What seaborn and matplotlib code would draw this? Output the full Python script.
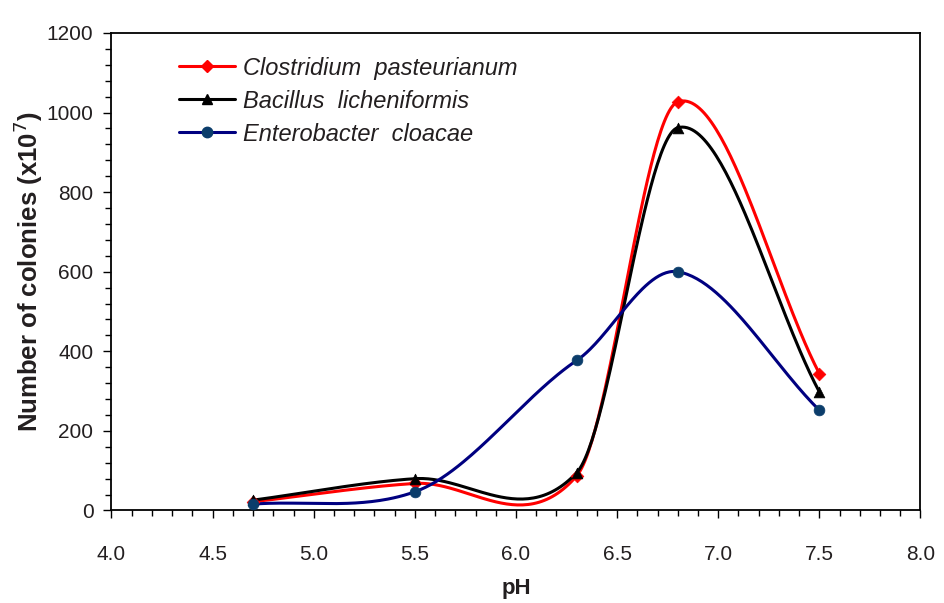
import numpy as np
import pandas as pd
import seaborn as sns
import matplotlib
matplotlib.use("Agg")
import matplotlib.pyplot as plt
from matplotlib.ticker import MultipleLocator
from matplotlib.lines import Line2D

# ---- data ----
ph = [4.7, 5.5, 6.3, 6.8, 7.5]
clostridium = [22, 68, 87, 1027, 344]
bacillus = [26, 80, 95, 962, 298]
enterobacter = [16, 47, 377, 600, 252]
series_names = ["Clostridium  pasteurianum", "Bacillus  licheniformis", "Enterobacter  cloacae"]
line_colors = ["#FF0000", "#000000", "#000080"]
marker_colors = ["#FF0000", "#000000", "#0B3D6B"]
markers = ["D", "^", "o"]
x_ticks = [4.0, 4.5, 5.0, 5.5, 6.0, 6.5, 7.0, 7.5, 8.0]
y_ticks = [0, 200, 400, 600, 800, 1000, 1200]


def cardinal_spline(x, y, tension=0.8, n=60):
    """Smooth curve through the points (cardinal / Catmull-Rom style), as drawn by the source program."""
    x = np.asarray(x, float)
    y = np.asarray(y, float)
    k = len(x)
    m = np.zeros(k)
    for i in range(k):
        if i == 0:
            m[i] = (y[1] - y[0]) / (x[1] - x[0])
        elif i == k - 1:
            m[i] = (y[-1] - y[-2]) / (x[-1] - x[-2])
        else:
            m[i] = tension * (y[i + 1] - y[i - 1]) / (x[i + 1] - x[i - 1])
    xs_all, ys_all = [], []
    for i in range(k - 1):
        h = x[i + 1] - x[i]
        t = np.linspace(0, 1, n, endpoint=(i == k - 2))
        h00 = 2 * t ** 3 - 3 * t ** 2 + 1
        h10 = t ** 3 - 2 * t ** 2 + t
        h01 = -2 * t ** 3 + 3 * t ** 2
        h11 = t ** 3 - t ** 2
        xs_all.append(x[i] + t * h)
        ys_all.append(h00 * y[i] + h10 * h * m[i] + h01 * y[i + 1] + h11 * h * m[i + 1])
    return np.concatenate(xs_all), np.concatenate(ys_all)


sns.set_style("ticks")
plt.rcParams["font.family"] = ["Liberation Sans", "DejaVu Sans"]
text_color = "#231F20"

fig = plt.figure(figsize=(9.44, 6.03), dpi=100)
ax = fig.add_axes([0.1181, 0.1534, 0.857, 0.7919])

raw = {series_names[0]: clostridium, series_names[1]: bacillus, series_names[2]: enterobacter}
smooth_frames = []
point_frames = []
for name, vals in raw.items():
    xs, ys = cardinal_spline(ph, vals)
    smooth_frames.append(pd.DataFrame({"pH": xs, "count": ys, "series": name}))
    point_frames.append(pd.DataFrame({"pH": ph, "count": vals, "series": name}))
smooth = pd.concat(smooth_frames, ignore_index=True)
points = pd.concat(point_frames, ignore_index=True)

sns.lineplot(data=smooth, x="pH", y="count", hue="series", hue_order=series_names,
             palette=line_colors, sort=False, estimator=None, linewidth=2.2,
             legend=False, ax=ax)
for name, mc, mk in zip(series_names, marker_colors, markers):
    sub = points[points["series"] == name]
    sns.scatterplot(data=sub, x="pH", y="count", color=mc, marker=mk,
                    s=60 if mk != "D" else 42, edgecolor=mc, linewidth=0.5,
                    legend=False, ax=ax, zorder=5)

ax.set_xlim(4.0, 8.0)
ax.set_ylim(0, 1200)
ax.set_xticks(x_ticks)
ax.set_xticklabels([f"{v:.1f}" for v in x_ticks])
ax.set_yticks(y_ticks)
ax.set_yticklabels([str(v) for v in y_ticks])
ax.xaxis.set_minor_locator(MultipleLocator(0.1))
ax.yaxis.set_minor_locator(MultipleLocator(40))
ax.tick_params(axis="both", which="major", direction="out", length=6, width=1.0,
               colors="black", labelcolor=text_color, labelsize=15)
ax.tick_params(axis="both", which="minor", direction="out", length=4.5, width=1.0, colors="black")
ax.tick_params(axis="x", which="major", pad=19)
ax.tick_params(axis="y", which="major", pad=7)
for sp in ax.spines.values():
    sp.set_visible(True)
    sp.set_linewidth(1.3)
    sp.set_color("black")

ax.set_xlabel("pH", fontsize=16, fontweight="bold", color=text_color, labelpad=10)
ax.set_ylabel("Number of colonies (x10$^{7}$)", fontsize=18.5, fontweight="bold",
              color=text_color, labelpad=1)

handles = [Line2D([0], [0], color=lc, linewidth=2.2, marker=mk, markersize=7.5 if mk != "D" else 6,
                  markerfacecolor=mc, markeredgecolor=mc)
           for lc, mc, mk in zip(line_colors, marker_colors, markers)]
leg = ax.legend(handles, series_names, loc="upper left", bbox_to_anchor=(0.072, 0.97),
                frameon=False, prop={"style": "italic", "size": 17},
                handlelength=2.35, handletextpad=0.35, labelspacing=0.42, borderaxespad=0)
for t in leg.get_texts():
    t.set_color(text_color)

fig.savefig("out.png", dpi=100)
